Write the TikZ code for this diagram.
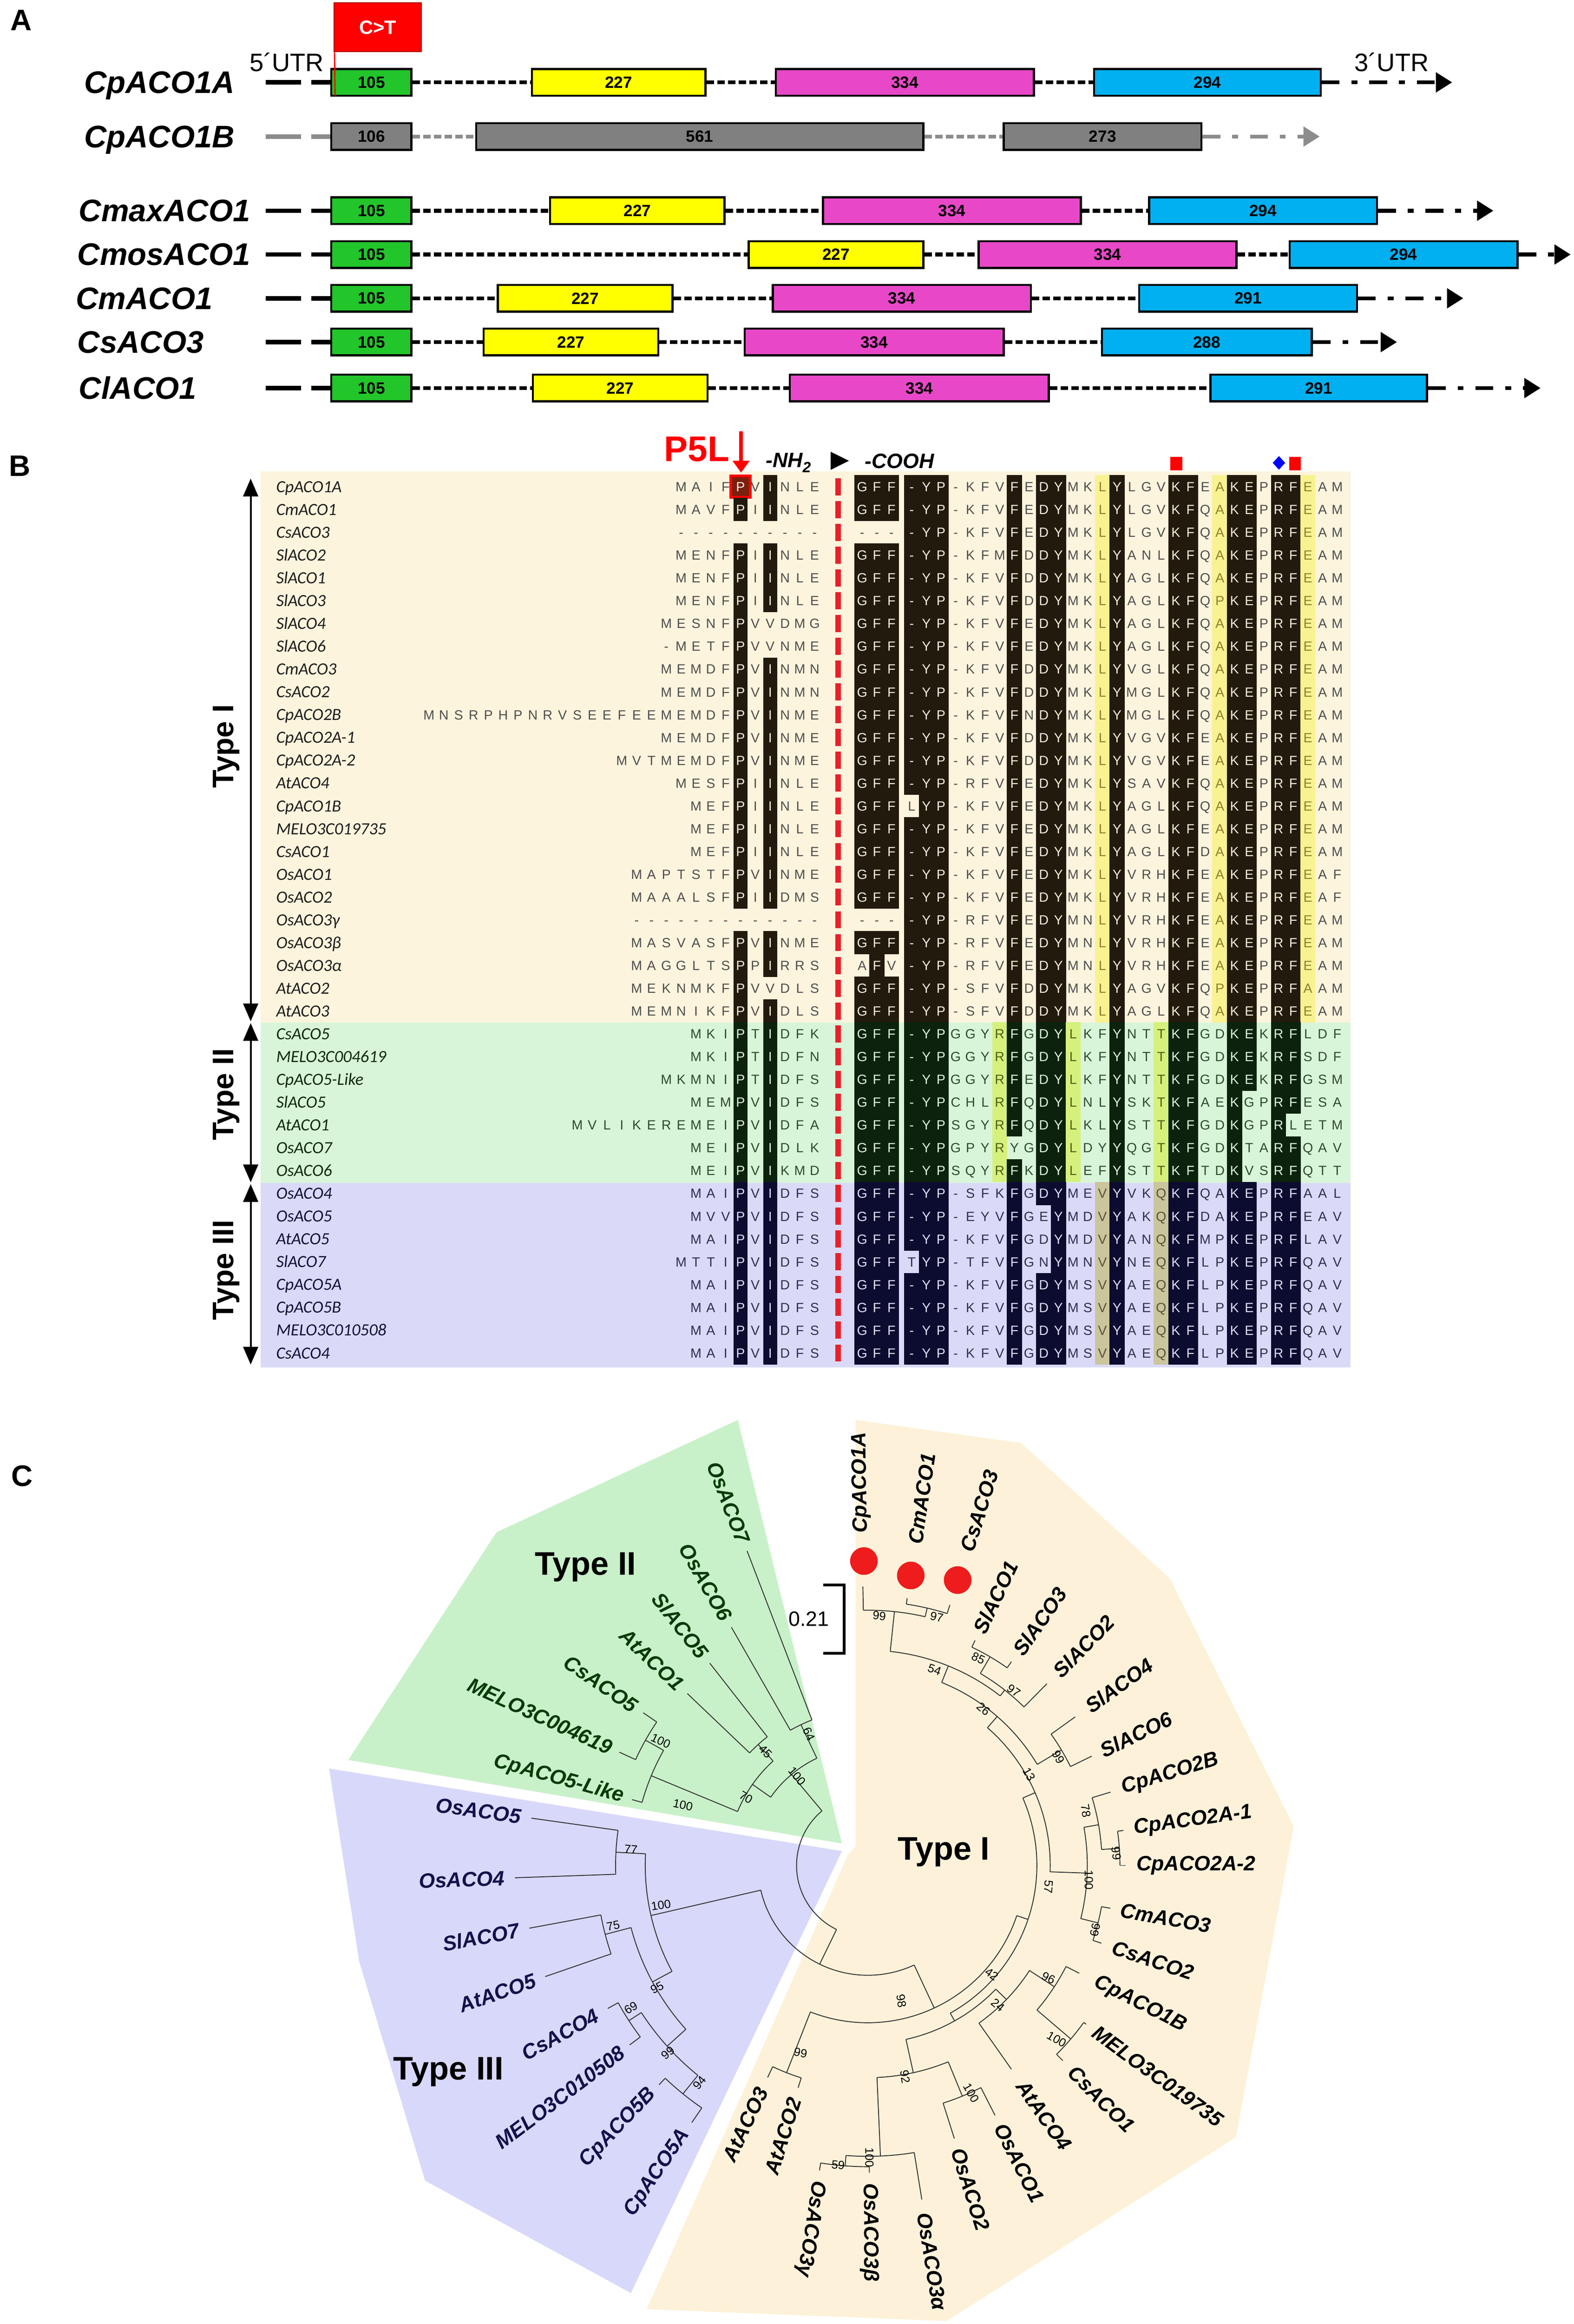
\documentclass[tikz,border=0pt]{standalone}
\usepackage{fontspec}
\setmainfont{Liberation Sans}
\newfontfamily\namefont{Carlito}
\usetikzlibrary{arrows.meta}
\definecolor{exgreen}{HTML}{22C52A}
\definecolor{exyellow}{HTML}{FFFF00}
\definecolor{expink}{HTML}{E848C8}
\definecolor{exblue}{HTML}{00B0F0}
\definecolor{exgray}{HTML}{808080}
\definecolor{lngray}{HTML}{8C8C8C}
\definecolor{ctred}{HTML}{FF0000}
\definecolor{bgI}{HTML}{FDF4DD}
\definecolor{bgII}{HTML}{D9F5D9}
\definecolor{bgIII}{HTML}{DADAF8}
\definecolor{blkI}{HTML}{221A0C}
\definecolor{blkII}{HTML}{0C220C}
\definecolor{blkIII}{HTML}{0C0C30}
\definecolor{hlI}{HTML}{F8F290}
\definecolor{hlII}{HTML}{D6F07C}
\definecolor{hlIII}{HTML}{CBC59C}
\definecolor{txI}{HTML}{4D4D4D}
\definecolor{txII}{HTML}{2E4A2E}
\definecolor{txIII}{HTML}{2E2E50}
\definecolor{wtI}{HTML}{F3EEDD}
\definecolor{wtII}{HTML}{DDF3DD}
\definecolor{wtIII}{HTML}{DEDEF5}
\definecolor{hltI}{HTML}{8E8030}
\definecolor{hltII}{HTML}{4E6218}
\definecolor{hltIII}{HTML}{5A5438}
\definecolor{nmI}{HTML}{1E1E1E}
\definecolor{nmII}{HTML}{0F2A0F}
\definecolor{nmIII}{HTML}{12123A}
\definecolor{pboxc}{HTML}{7A200E}
\definecolor{redline}{HTML}{E8202A}
\definecolor{trI}{HTML}{FDF2D9}
\definecolor{trII}{HTML}{C9F1C9}
\definecolor{trIII}{HTML}{D8D8FA}
\definecolor{lfII}{HTML}{0A3A0A}
\definecolor{lfIII}{HTML}{12124A}
\definecolor{dotred}{HTML}{EE1C1C}

% ---------- alignment machinery ----------
\def\sqend{sqendmarker}
\def\popmask#1#2\relax{\def\sqcur{#1}\def\sqmask{#2}}
\newcommand\seqm[5]{\def\sqx{#1}\def\sqp{#2}\pgfmathsetmacro\sqy{328+(#3-1)*15.36}\edef\sqmask{#4}\sqloop#5\sqend}
\def\sqloop#1{\ifx#1\sqend\else\expandafter\popmask\sqmask\relax\sqput{#1}\pgfmathsetmacro\sqx{\sqx+\sqp}\expandafter\sqloop\fi}
\def\sqput#1{%
  \ifx#1.\else
    \if\sqcur b%
      \fill[fill=\blkc] (\sqx-\cw,\sqy-7.8) rectangle (\sqx+\cw,\sqy+7.8);%
      \node[res,text=\wtc] at (\sqx,\sqy+3.25) {#1};%
    \else
      \if\sqcur h%
        \fill[fill=\hlc] (\sqx-\cw,\sqy-7.8) rectangle (\sqx+\cw,\sqy+7.8);%
        \node[res,text=\hltc] at (\sqx,\sqy+3.25) {#1};%
      \else
        \if\sqcur r%
          \filldraw[fill=pboxc,draw=red,line width=1.8pt] (\sqx-6.6,\sqy-7.2) rectangle (\sqx+6.6,\sqy+7.2);%
          \node[res,text=wtI] at (\sqx,\sqy+3.25) {#1};%
        \else
          \node[res,text=\txc] at (\sqx,\sqy+3.25) {#1};%
        \fi
      \fi
    \fi
  \fi}
\newcommand\region[6]{\def\blkc{#1}\def\hlc{#2}\def\txc{#3}\def\wtc{#4}\def\hltc{#5}\def\txn{#6}}
\newcommand\arow[9]{%
  \pgfmathsetmacro\nmy{328+(#1-1)*15.36+3.8}%
  \node[nm,text=\txn] at (186,\nmy) {#2};%
  \def\cw{4.7}\seqm{#3}{10}{#1}{#4}{#5}%
  \def\cw{5.1}\seqm{581.2}{9.9}{#1}{#6}{#7}%
  \seqm{614.6}{9.893}{#1}{#8}{#9}}
\def\mI{bbb....b.bb..hb...bb.hbb.bbh..}
\def\mIb{.bb....b.bb..hb...bb.hbb.bbh..}
\def\mIIa{bbb...hb.bbh..b..hbb..bb.bb...}
\def\mIIb{bbb...hb.bbh..b..hbb..b..bb...}
\def\mIIc{bbb...hb.bbh..b..hbb..b..b....}
\def\mIId{bbb...h..bbh..b..hbb..b..bb...}
\def\mIIIa{bbb....b.bb..hb..hbb..bb.bb...}
\def\mIIIb{bbb....b..b..hb..hbb..bb.bb...}
\def\mIIIc{.bb....b..b..hb..hbb..bb.bb...}

% ---------- gene model ----------
\newcommand\exon[6]{\pgfmathsetmacro\exw{#4-#3}\pgfmathsetmacro\exc{(#3+#4)/2}\node[exbox,fill=#2,minimum width=\exw pt] (#1) at (\exc,#5) {#6};}

% ---------- tree ----------
\newcommand\tr[3]{\draw[treeln] (#3:#1) -- (#3:#2);}
\newcommand\ta[3]{\draw[treeln] (#2:#1) arc[start angle=#2,end angle=#3,radius=#1];}
\newcommand\lfR[4]{\node[leaf,text=#4,anchor=west,rotate=#1] at (#1:#2) {#3};}
\newcommand\lfL[5]{\node[leaf,text=#5,anchor=east,rotate=#2] at (#1:#3) {#4};}

\begin{document}
\begin{tikzpicture}[x=1pt,y=1pt,
  exbox/.style={draw=black,line width=1.4pt,inner sep=0pt,minimum height=18pt,font=\fontsize{11}{11}\selectfont\bfseries},
  genelab/.style={anchor=base west,inner sep=0pt,font=\fontsize{21}{21}\selectfont\bfseries\itshape},
  leadln/.style={line width=3pt},
  intronln/.style={line width=2.6pt,dash pattern=on 5pt off 2.2pt},
  tailln/.style={line width=2.6pt,dash pattern=on 12pt off 8pt on 4pt off 8pt,-{Triangle[length=11pt,width=13pt]}},
  res/.style={inner sep=0pt,anchor=base,font=\fontsize{9}{9}\selectfont},
  nm/.style={inner sep=0pt,anchor=base west,font=\namefont\itshape\fontsize{11.5}{11.5}\selectfont},
  treeln/.style={line width=0.6pt,draw=black!80},
  leaf/.style={inner sep=0pt,font=\fontsize{14}{14}\selectfont\bfseries\itshape},
  bs/.style={inner sep=0pt,font=\fontsize{8}{8}\selectfont},
  panel/.style={anchor=base west,inner sep=0pt,font=\fontsize{20}{20}\selectfont\bfseries},
]
\fill[white] (0,0) rectangle (1061,-1566);
\useasboundingbox (0,0) rectangle (1061,-1566);

\begin{scope}[yscale=-1]
% ================= PANEL A =================
\node[panel] (pA) at (6.8,20.4) {A};
\node[draw=red!70!black,line width=0.6pt,fill=ctred,text=white,font=\fontsize{13}{13}\selectfont\bfseries,minimum width=59pt,minimum height=33pt,inner sep=0pt] (ct) at (254.7,18.4) {C>T};
\node[anchor=base west,inner sep=0pt,font=\fontsize{17}{17}\selectfont] (utr5) at (168,48) {5´UTR};
\node[anchor=base west,inner sep=0pt,font=\fontsize{17}{17}\selectfont] (utr3) at (913,48) {3´UTR};

% row 1 CpACO1A
\node[genelab] (nA1) at (56.5,62.8) {CpACO1A};
\exon{a1}{exgreen}{223.3}{277.4}{55.5}{105}
\exon{a2}{exyellow}{358.6}{475.6}{55.5}{227}
\exon{a3}{expink}{523}{697}{55.5}{334}
\exon{a4}{exblue}{737.5}{890.4}{55.5}{294}
\coordinate (a0) at (179.3,55.5); \coordinate (a0m) at (203,55.5); \coordinate (a0n) at (209.7,55.5); \coordinate (a5) at (979,55.5);
\draw[leadln] (a0) -- (a0m); \draw[leadln] (a0n) -- (a1.west);
\draw[intronln] (a1.east) -- (a2.west); \draw[intronln] (a2.east) -- (a3.west); \draw[intronln] (a3.east) -- (a4.west);
\draw[tailln] (a4.east) -- (a5);
\coordinate (ctend) at (225.9,64.5);
\draw[red,line width=0.9pt] ([xshift=0.6pt]ct.south west) -- (ctend);

% row 2 CpACO1B
\node[genelab] (nA2) at (56.5,99.3) {CpACO1B};
\exon{b1}{exgray}{223.3}{277.4}{92}{106}
\exon{b2}{exgray}{321}{622.5}{92}{561}
\exon{b3}{exgray}{676.6}{810}{92}{273}
\coordinate (b0) at (179.3,92); \coordinate (b0m) at (203,92); \coordinate (b0n) at (209.7,92); \coordinate (b5) at (889.7,92);
\draw[leadln,lngray] (b0) -- (b0m); \draw[leadln,lngray] (b0n) -- (b1.west);
\draw[intronln,lngray] (b1.east) -- (b2.west); \draw[intronln,lngray] (b2.east) -- (b3.west);
\draw[tailln,lngray] (b3.east) -- (b5);

% row 3 CmaxACO1
\node[genelab] (nA3) at (53,149.3) {CmaxACO1};
\exon{c1}{exgreen}{223.3}{277.4}{142}{105}
\exon{c2}{exyellow}{370.8}{488.5}{142}{227}
\exon{c3}{expink}{554.8}{728.7}{142}{334}
\exon{c4}{exblue}{774.7}{928.3}{142}{294}
\coordinate (c0) at (179.3,142); \coordinate (c0m) at (203,142); \coordinate (c0n) at (209.7,142); \coordinate (c5) at (1006.8,142);
\draw[leadln] (c0) -- (c0m); \draw[leadln] (c0n) -- (c1.west);
\draw[intronln] (c1.east) -- (c2.west); \draw[intronln] (c2.east) -- (c3.west); \draw[intronln] (c3.east) -- (c4.west);
\draw[tailln] (c4.east) -- (c5);

% row 4 CmosACO1
\node[genelab] (nA4) at (52,178.8) {CmosACO1};
\exon{d1}{exgreen}{223.3}{277.4}{171.5}{105}
\exon{d2}{exyellow}{504.7}{622.5}{171.5}{227}
\exon{d3}{expink}{659.7}{833.6}{171.5}{334}
\exon{d4}{exblue}{869.4}{1023}{171.5}{294}
\coordinate (d0) at (179.3,171.5); \coordinate (d0m) at (203,171.5); \coordinate (d0n) at (209.7,171.5); \coordinate (d5) at (1058.9,171.5);
\draw[leadln] (d0) -- (d0m); \draw[leadln] (d0n) -- (d1.west);
\draw[intronln] (d1.east) -- (d2.west); \draw[intronln] (d2.east) -- (d3.west); \draw[intronln] (d3.east) -- (d4.west);
\draw[tailln] (d4.east) -- (d5);

% row 5 CmACO1
\node[genelab] (nA5) at (51,208.3) {CmACO1};
\exon{e1}{exgreen}{223.3}{277.4}{201}{105}
\exon{e2}{exyellow}{335.6}{453.3}{201}{227}
\exon{e3}{expink}{521}{694.9}{201}{334}
\exon{e4}{exblue}{767.9}{914.8}{201}{291}
\coordinate (e0) at (179.3,201); \coordinate (e0m) at (203,201); \coordinate (e0n) at (209.7,201); \coordinate (e5) at (986.5,201);
\draw[leadln] (e0) -- (e0m); \draw[leadln] (e0n) -- (e1.west);
\draw[intronln] (e1.east) -- (e2.west); \draw[intronln] (e2.east) -- (e3.west); \draw[intronln] (e3.east) -- (e4.west);
\draw[tailln] (e4.east) -- (e5);

% row 6 CsACO3
\node[genelab] (nA6) at (52,237.8) {CsACO3};
\exon{f1}{exgreen}{223.3}{277.4}{230.5}{105}
\exon{f2}{exyellow}{326}{443.8}{230.5}{227}
\exon{f3}{expink}{502}{676.6}{230.5}{334}
\exon{f4}{exblue}{742.9}{884.3}{230.5}{288}
\coordinate (f0) at (179.3,230.5); \coordinate (f0m) at (203,230.5); \coordinate (f0n) at (209.7,230.5); \coordinate (f5) at (941.8,230.5);
\draw[leadln] (f0) -- (f0m); \draw[leadln] (f0n) -- (f1.west);
\draw[intronln] (f1.east) -- (f2.west); \draw[intronln] (f2.east) -- (f3.west); \draw[intronln] (f3.east) -- (f4.west);
\draw[tailln] (f4.east) -- (f5);

% row 7 ClACO1
\node[genelab] (nA7) at (53,268.8) {ClACO1};
\exon{g1}{exgreen}{223.3}{277.4}{261.5}{105}
\exon{g2}{exyellow}{359.3}{477}{261.5}{227}
\exon{g3}{expink}{532.5}{707}{261.5}{334}
\exon{g4}{exblue}{816}{962}{261.5}{291}
\coordinate (g0) at (179.3,261.5); \coordinate (g0m) at (203,261.5); \coordinate (g0n) at (209.7,261.5); \coordinate (g5) at (1038.6,261.5);
\draw[leadln] (g0) -- (g0m); \draw[leadln] (g0n) -- (g1.west);
\draw[intronln] (g1.east) -- (g2.west); \draw[intronln] (g2.east) -- (g3.west); \draw[intronln] (g3.east) -- (g4.west);
\draw[tailln] (g4.east) -- (g5);

% ================= PANEL B =================
\node[panel] (pB) at (6,321) {B};
\fill[bgI] (175.7,317.5) rectangle (910.5,689);
\fill[bgII] (175.7,689) rectangle (910.5,797);
\fill[bgIII] (175.7,797) rectangle (910.5,921.3);

\region{blkI}{hlI}{txI}{wtI}{hltI}{nmI}
\arow{1}{CpACO1A}{459.2}{....r.b...}{MAIFPVINLE}{bbb}{GFF}{\mI}{-YP-KFVFEDYMKLYLGVKFEAKEPRFEAM}
\arow{2}{CmACO1}{459.2}{....b.b...}{MAVFPIINLE}{bbb}{GFF}{\mI}{-YP-KFVFEDYMKLYLGVKFQAKEPRFEAM}
\arow{3}{CsACO3}{459.2}{..........}{----------}{...}{---}{\mI}{-YP-KFVFEDYMKLYLGVKFQAKEPRFEAM}
\arow{4}{SlACO2}{459.2}{....b.b...}{MENFPIINLE}{bbb}{GFF}{\mI}{-YP-KFMFDDYMKLYANLKFQAKEPRFEAM}
\arow{5}{SlACO1}{459.2}{....b.b...}{MENFPIINLE}{bbb}{GFF}{\mI}{-YP-KFVFDDYMKLYAGLKFQAKEPRFEAM}
\arow{6}{SlACO3}{459.2}{....b.b...}{MENFPIINLE}{bbb}{GFF}{\mI}{-YP-KFVFDDYMKLYAGLKFQPKEPRFEAM}
\arow{7}{SlACO4}{449.2}{.....b.....}{MESNFPVVDMG}{bbb}{GFF}{\mI}{-YP-KFVFEDYMKLYAGLKFQAKEPRFEAM}
\arow{8}{SlACO6}{449.2}{.....b.....}{-METFPVVNME}{bbb}{GFF}{\mI}{-YP-KFVFEDYMKLYAGLKFQAKEPRFEAM}
\arow{9}{CmACO3}{449.2}{.....b.b...}{MEMDFPVINMN}{bbb}{GFF}{\mI}{-YP-KFVFDDYMKLYVGLKFQAKEPRFEAM}
\arow{10}{CsACO2}{449.2}{.....b.b...}{MEMDFPVINMN}{bbb}{GFF}{\mI}{-YP-KFVFDDYMKLYMGLKFQAKEPRFEAM}
\arow{11}{CpACO2B}{289.2}{.....................b.b...}{MNSRPHPNRVSEEFEEMEMDFPVINME}{bbb}{GFF}{\mI}{-YP-KFVFNDYMKLYMGLKFQAKEPRFEAM}
\arow{12}{CpACO2A-1}{449.2}{.....b.b...}{MEMDFPVINME}{bbb}{GFF}{\mI}{-YP-KFVFDDYMKLYVGVKFEAKEPRFEAM}
\arow{13}{CpACO2A-2}{419.2}{........b.b...}{MVTMEMDFPVINME}{bbb}{GFF}{\mI}{-YP-KFVFDDYMKLYVGVKFEAKEPRFEAM}
\arow{14}{AtACO4}{459.2}{....b.b...}{MESFPIINLE}{bbb}{GFF}{\mI}{-YP-RFVFEDYMKLYSAVKFQAKEPRFEAM}
\arow{15}{CpACO1B}{469.2}{...b.b...}{MEFPIINLE}{bbb}{GFF}{\mIb}{LYP-KFVFEDYMKLYAGLKFQAKEPRFEAM}
\arow{16}{MELO3C019735}{469.2}{...b.b...}{MEFPIINLE}{bbb}{GFF}{\mI}{-YP-KFVFEDYMKLYAGLKFEAKEPRFEAM}
\arow{17}{CsACO1}{469.2}{...b.b...}{MEFPIINLE}{bbb}{GFF}{\mI}{-YP-KFVFEDYMKLYAGLKFDAKEPRFEAM}
\arow{18}{OsACO1}{429.2}{.......b.b...}{MAPTSTFPVINME}{bbb}{GFF}{\mI}{-YP-KFVFEDYMKLYVRHKFEAKEPRFEAF}
\arow{19}{OsACO2}{429.2}{.......b.b...}{MAAALSFPIIDMS}{bbb}{GFF}{\mI}{-YP-KFVFEDYMKLYVRHKFEAKEPRFEAF}
\arow{20}{OsACO3γ}{429.2}{.............}{-------------}{...}{---}{\mI}{-YP-RFVFEDYMNLYVRHKFEAKEPRFEAM}
\arow{21}{OsACO3β}{429.2}{.......b.b...}{MASVASFPVINME}{bbb}{GFF}{\mI}{-YP-RFVFEDYMNLYVRHKFEAKEPRFEAM}
\arow{22}{OsACO3α}{429.2}{.......b.b...}{MAGGLTSPPIRRS}{.b.}{AFV}{\mI}{-YP-RFVFEDYMNLYVRHKFEAKEPRFEAM}
\arow{23}{AtACO2}{429.2}{.......b.....}{MEKNMKFPVVDLS}{bbb}{GFF}{\mI}{-YP-SFVFDDYMKLYAGVKFQPKEPRFAAM}
\arow{24}{AtACO3}{429.2}{.......b.b...}{MEMNIKFPVIDLS}{bbb}{GFF}{\mI}{-YP-SFVFDDYMKLYAGLKFQAKEPRFEAM}

\region{blkII}{hlII}{txII}{wtII}{hltII}{nmII}
\arow{25}{CsACO5}{469.2}{...b.b...}{MKIPTIDFK}{bbb}{GFF}{\mIIa}{-YPGGYRFGDYLKFYNTTKFGDKEKRFLDF}
\arow{26}{MELO3C004619}{469.2}{...b.b...}{MKIPTIDFN}{bbb}{GFF}{\mIIa}{-YPGGYRFGDYLKFYNTTKFGDKEKRFSDF}
\arow{27}{CpACO5-Like}{449.2}{.....b.b...}{MKMNIPTIDFS}{bbb}{GFF}{\mIIa}{-YPGGYRFEDYLKFYNTTKFGDKEKRFGSM}
\arow{28}{SlACO5}{469.2}{...b.b...}{MEMPVIDFS}{bbb}{GFF}{\mIIb}{-YPCHLRFQDYLNLYSKTKFAEKGPRFESA}
\arow{29}{AtACO1}{389.2}{...........b.b...}{MVLIKEREMEIPVIDFA}{bbb}{GFF}{\mIIc}{-YPSGYRFQDYLKLYSTTKFGDKGPRLETM}
\arow{30}{OsACO7}{469.2}{...b.b...}{MEIPVIDLK}{bbb}{GFF}{\mIId}{-YPGPYRYGDYLDYYQGTKFGDKTARFQAV}
\arow{31}{OsACO6}{469.2}{...b.b...}{MEIPVIKMD}{bbb}{GFF}{\mIIb}{-YPSQYRFKDYLEFYSTTKFTDKVSRFQTT}

\region{blkIII}{hlIII}{txIII}{wtIII}{hltIII}{nmIII}
\arow{32}{OsACO4}{469.2}{...b.b...}{MAIPVIDFS}{bbb}{GFF}{\mIIIa}{-YP-SFKFGDYMEVYVKQKFQAKEPRFAAL}
\arow{33}{OsACO5}{469.2}{...b.b...}{MVVPVIDFS}{bbb}{GFF}{\mIIIb}{-YP-EYVFGEYMDVYAKQKFDAKEPRFEAV}
\arow{34}{AtACO5}{469.2}{...b.b...}{MAIPVIDFS}{bbb}{GFF}{\mIIIb}{-YP-KFVFGDYMDVYANQKFMPKEPRFLAV}
\arow{35}{SlACO7}{459.2}{....b.b...}{MTTIPVIDFS}{bbb}{GFF}{\mIIIc}{TYP-TFVFGNYMNVYNEQKFLPKEPRFQAV}
\arow{36}{CpACO5A}{469.2}{...b.b...}{MAIPVIDFS}{bbb}{GFF}{\mIIIa}{-YP-KFVFGDYMSVYAEQKFLPKEPRFQAV}
\arow{37}{CpACO5B}{469.2}{...b.b...}{MAIPVIDFS}{bbb}{GFF}{\mIIIa}{-YP-KFVFGDYMSVYAEQKFLPKEPRFQAV}
\arow{38}{MELO3C010508}{469.2}{...b.b...}{MAIPVIDFS}{bbb}{GFF}{\mIIIa}{-YP-KFVFGDYMSVYAEQKFLPKEPRFQAV}
\arow{39}{CsACO4}{469.2}{...b.b...}{MAIPVIDFS}{bbb}{GFF}{\mIIIa}{-YP-KFVFGDYMSVYAEQKFLPKEPRFQAV}

% red dashed separator
\coordinate (rd1) at (565,322.25); \coordinate (rd2) at (565,921);
\draw[draw=redline,line width=4pt,dash pattern=on 11.5pt off 3.86pt] (rd1) -- (rd2);

% header
\node[anchor=base west,inner sep=0pt,text=red,font=\fontsize{24}{24}\selectfont\bfseries] (p5l) at (447.6,310.7) {P5L};
\coordinate (p5a) at (499.6,290.5); \coordinate (p5b) at (499.6,318.5);
\draw[red,line width=2.4pt,-{Triangle[length=8pt,width=11pt]}] (p5a) -- (p5b);
\node[anchor=base west,inner sep=0pt,font=\fontsize{14}{14}\selectfont\bfseries\itshape] (nh2) at (516,315) {-NH\raisebox{-3.5pt}{\fontsize{10}{10}\selectfont 2}};
\fill (560,304.4) -- (572.3,310.5) -- (560,316.6) -- cycle;
\node[anchor=base west,inner sep=0pt,font=\fontsize{14}{14}\selectfont\bfseries\itshape] (cooh) at (582.9,315.5) {-COOH};
\fill[red] (789,307.8) rectangle (797,317);
\fill[red] (869,307.8) rectangle (877,317);
\fill[blue] (862.2,307.3) -- (866.4,311.9) -- (862.2,316.5) -- (858,311.9) -- cycle;

% type arrows
\coordinate (t1a) at (169,322.5); \coordinate (t1b) at (169,688.2);
\coordinate (t2a) at (169,689.4); \coordinate (t2b) at (169,796.7);
\coordinate (t3a) at (169,797.9); \coordinate (t3b) at (169,919.5);
\draw[line width=1.3pt,{Triangle[length=12pt,width=10pt]}-{Triangle[length=12pt,width=10pt]}] (t1a) -- (t1b);
\draw[line width=1.3pt,{Triangle[length=12pt,width=10pt]}-{Triangle[length=12pt,width=10pt]}] (t2a) -- (t2b);
\draw[line width=1.3pt,{Triangle[length=12pt,width=10pt]}-{Triangle[length=12pt,width=10pt]}] (t3a) -- (t3b);
\node[rotate=90,inner sep=0pt,font=\fontsize{20}{20}\selectfont\bfseries] (ty1) at (152.5,503) {Type I};
\node[rotate=90,inner sep=0pt,font=\fontsize{20}{20}\selectfont\bfseries] (ty2) at (152.5,737.5) {Type II};
\node[rotate=90,inner sep=0pt,font=\fontsize{20}{20}\selectfont\bfseries] (ty3) at (152.5,855.8) {Type III};

% ================= PANEL C backgrounds =================
\node[panel] (pC) at (7.4,1001.5) {C};
\fill[trII] (497.4,956.8) -- (334.7,1032.5) -- (234.8,1185.9) -- (567.6,1242.2) -- cycle;
\fill[trIII] (221.9,1191.7) -- (567.6,1247.3) -- (425.3,1545.1) -- (286.6,1469.4) -- (242.2,1321.8) -- cycle;
\fill[trI] (576.8,956.8) -- (688.3,972.3) -- (788.6,1063.6) -- (872.2,1230.6) -- (833.2,1440.2) -- (638.1,1564) -- (436,1556) -- (571.5,1250) -- (576.8,1244) -- cycle;
\end{scope}

% ================= TREE (polar, y up) =================
\begin{scope}[shift={(585,-1257)}]
% root and backbone
\ta{48}{130}{244}
\tr{48}{80}{130}
\tr{48}{74}{244}
\ta{74}{193}{295}
\tr{74}{150}{193}
\tr{74}{106}{295}
% Type II
\ta{80}{115.4}{144.9}
\tr{80}{95}{144.9} \tr{80}{105}{115.4}
\ta{95}{132.2}{157.5}
\tr{95}{110}{132.2} \tr{95}{158}{157.5}
\ta{110}{128}{136.4}
\tr{110}{168}{136.4} \tr{110}{173}{128}
\ta{158}{150.6}{164.4}
\tr{158}{165}{164.4} \tr{158}{172}{150.6}
\ta{172}{145.8}{155.5}
\tr{172}{184}{155.5} \tr{172}{183}{145.8}
\ta{105}{111}{119.8}
\tr{105}{185}{119.8} \tr{105}{227}{111}
% Type III
\ta{150}{177}{208.4}
\tr{150}{170}{177} \tr{150}{165}{208.4}
\ta{170}{172}{182}
\tr{170}{229}{172} \tr{170}{238}{182}
\ta{165}{194.7}{222}
\tr{165}{183}{194.7} \tr{165}{182}{222}
\ta{183}{190.5}{199}
\tr{183}{232}{190.5} \tr{183}{230}{199}
\ta{182}{213}{231}
\tr{182}{192}{213} \tr{182}{198}{231}
\ta{192}{208.8}{217}
\tr{192}{200}{208.8} \tr{192}{201}{217}
\ta{198}{226.4}{235.6}
\tr{198}{204}{226.4} \tr{198}{210}{235.6}
% Type I
\ta{106}{248.6}{341.4}
\tr{106}{114}{341.4} \tr{106}{150}{248.6}
\ta{150}{244.7}{252.6}
\tr{150}{157}{252.6} \tr{150}{158}{244.7}
\ta{114}{-60.8}{23.5}
\tr{114}{123}{23.5} \tr{114}{120}{-60.8}
\ta{123}{-2}{49}
\tr{123}{133}{49} \tr{123}{148}{-2}
\ta{133}{30.8}{68}
\tr{133}{145}{68} \tr{133}{152}{30.8}
\ta{145}{52}{84}
\tr{145}{172}{84} \tr{145}{150}{52}
\ta{172}{77}{91}
\tr{172}{188}{91} \tr{172}{178}{77}
\ta{178}{72.5}{81.6}
\tr{178}{182}{81.6} \tr{178}{184}{72.5}
\ta{150}{45.4}{59.6}
\tr{150}{163}{59.6} \tr{150}{172}{45.4}
\ta{163}{54.8}{64.5}
\tr{163}{168}{64.5} \tr{163}{168}{54.8}
\ta{152}{26}{35.6}
\tr{152}{172}{35.6} \tr{152}{168}{26}
\ta{148}{-14}{10}
\tr{148}{158}{10} \tr{148}{160}{-14}
\ta{158}{3.9}{16.8}
\tr{158}{171}{16.8} \tr{158}{170}{3.9}
\ta{170}{0}{7.8}
\tr{170}{174}{7.8} \tr{170}{174}{0}
\ta{160}{-18.4}{-10}
\tr{160}{166}{-10} \tr{160}{166}{-18.4}
\ta{120}{-77.6}{-44}
\tr{120}{130}{-44} \tr{120}{143}{-77.6}
\ta{130}{-54.8}{-33}
\tr{130}{150}{-33} \tr{130}{168}{-54.8}
\ta{150}{-40.5}{-27}
\tr{150}{160}{-27} \tr{150}{180}{-40.5}
\ta{180}{-45}{-36}
\tr{180}{182}{-36} \tr{180}{186}{-45}
\ta{143}{-87.5}{-67.7}
\tr{143}{168}{-67.7} \tr{143}{196}{-87.5}
\ta{168}{-72.4}{-63}
\tr{168}{189}{-63} \tr{168}{193}{-72.4}
\ta{196}{-94.3}{-80.8}
\tr{196}{203}{-94.3} \tr{196}{228}{-80.8}
\ta{203}{-99}{-89.7}
\tr{203}{208}{-99} \tr{203}{207}{-89.7}

% leaf labels, Type I (right side)
\lfR{91}{224}{CpACO1A}{black}
\lfR{81.6}{219}{CmACO1}{black}
\lfR{72.5}{222}{CsACO3}{black}
\lfR{64.5}{174}{SlACO1}{black}
\lfR{54.8}{175}{SlACO3}{black}
\lfR{45.4}{181}{SlACO2}{black}
\lfR{35.6}{182}{SlACO4}{black}
\lfR{26}{175}{SlACO6}{black}
\lfR{16.8}{179}{CpACO2B}{black}
\lfR{7.8}{181}{CpACO2A-1}{black}
\lfR{0}{181}{CpACO2A-2}{black}
\lfR{-10}{173}{CmACO3}{black}
\lfR{-18.4}{174}{CsACO2}{black}
\lfR{-27}{172}{CpACO1B}{black}
\lfR{-36}{189}{MELO3C019735}{black}
\lfR{-45}{194}{CsACO1}{black}
\lfR{-54.8}{179}{AtACO4}{black}
\lfR{-63}{196}{OsACO1}{black}
\lfR{-72.4}{200}{OsACO2}{black}
\lfR{-80.8}{237}{OsACO3α}{black}
\lfR{-89.7}{214}{OsACO3β}{black}
\lfR{-99}{215}{OsACO3γ}{black}
\lfL{252.6}{72.6}{164}{AtACO2}{black}
\lfL{244.7}{64.7}{166}{AtACO3}{black}
% Type III
\lfL{235.6}{55.6}{217}{CpACO5A}{lfIII}
\lfL{226.4}{46.4}{210}{CpACO5B}{lfIII}
\lfL{217}{37}{207}{MELO3C010508}{lfIII}
\lfL{208.8}{28.8}{208}{CsACO4}{lfIII}
\lfL{199}{19}{237}{AtACO5}{lfIII}
\lfL{190.5}{10.5}{239}{SlACO7}{lfIII}
\lfL{182}{2}{245}{OsACO4}{lfIII}
\lfL{172}{-8}{236}{OsACO5}{lfIII}
% Type II
\lfL{164.4}{-15.6}{171}{CpACO5-Like}{lfII}
\lfL{155.5}{-24.5}{190}{MELO3C004619}{lfII}
\lfL{145.8}{-34.2}{189}{CsACO5}{lfII}
\lfL{136.4}{-43.6}{174}{AtACO1}{lfII}
\lfL{128}{-52}{179}{SlACO5}{lfII}
\lfL{119.8}{-60.2}{191}{OsACO6}{lfII}
\lfL{111}{-69}{233}{OsACO7}{lfII}
\end{scope}

% ================= PANEL C overlays (display coords) =================
\begin{scope}[yscale=-1]
\fill[dotred] (582.4,1051.9) circle[radius=9.3];
\fill[dotred] (614,1061.6) circle[radius=9.3];
\fill[dotred] (645.6,1064.7) circle[radius=9.3];
\coordinate (sb1) at (555,1068); \coordinate (sb2) at (569,1068); \coordinate (sb3) at (569,1114); \coordinate (sb4) at (555,1114);
\draw[line width=1.8pt] (sb1) -- (sb2) -- (sb3) -- (sb4);
\node[anchor=east,inner sep=0pt,font=\fontsize{14}{14}\selectfont] (sbl) at (559,1091) {0.21};
\node[inner sep=0pt,font=\fontsize{22}{22}\selectfont\bfseries] (cty2) at (394.8,1056) {Type II};
\node[inner sep=0pt,font=\fontsize{22}{22}\selectfont\bfseries] (cty3) at (302.3,1396) {Type III};
\node[inner sep=0pt,font=\fontsize{22}{22}\selectfont\bfseries] (cty1) at (636.3,1248) {Type I};
% bootstrap values
\node[bs,rotate=-5] at (592.8,1088.8) {99};
\node[bs,rotate=-12] at (631.5,1089.6) {97};
\node[bs,rotate=-25] at (659.7,1117.2) {85};
\node[bs,rotate=-20] at (630,1125) {54};
\node[bs,rotate=-35] at (683.5,1139.3) {97};
\node[bs,rotate=-40] at (663,1151.7) {26};
\node[bs,rotate=-60] at (713.6,1184) {99};
\node[bs,rotate=-60] at (693.9,1195.6) {13};
\node[bs,rotate=-80] at (732.1,1220.1) {78};
\node[bs,rotate=-85] at (752.6,1248.8) {99};
\node[bs,rotate=-90] at (734,1266.7) {100};
\node[bs,rotate=-100] at (738.4,1300.4) {99};
\node[bs,rotate=-95] at (706.9,1271.3) {57};
\node[bs,rotate=-25] at (706.9,1332.7) {96};
\node[bs,rotate=-35] at (668.6,1330.3) {42};
\node[bs,rotate=-40] at (672.7,1351) {24};
\node[bs,rotate=-30] at (712.4,1374.2) {100};
\node[bs,rotate=-80] at (607.7,1348.2) {98};
\node[bs,rotate=-10] at (539.7,1383.2) {99};
\node[bs,rotate=-80] at (610.3,1399.5) {92};
\node[bs,rotate=-60] at (654.9,1410.3) {100};
\node[bs,rotate=-90] at (586.1,1453.8) {100};
\node[bs,rotate=-5] at (565,1458.9) {59};
\node[bs,rotate=-65] at (545.5,1168.4) {64};
\node[bs,rotate=-45] at (515.9,1180.1) {45};
\node[bs,rotate=-50] at (537.3,1196.8) {100};
\node[bs,rotate=-30] at (502.9,1211.1) {70};
\node[bs,rotate=-25] at (445.6,1173.1) {100};
\node[bs,rotate=-12] at (460.4,1216.2) {100};
\node[bs,rotate=-5] at (425.3,1246.1) {77};
\node[bs,rotate=8] at (445.6,1283.8) {100};
\node[bs,rotate=10] at (413.4,1297.7) {75};
\node[bs,rotate=28] at (443,1339.3) {95};
\node[bs,rotate=30] at (425.3,1352.9) {69};
\node[bs,rotate=40] at (450.4,1383.2) {99};
\node[bs,rotate=50] at (471.5,1403.3) {94};
\end{scope}
\end{tikzpicture}
\end{document}
